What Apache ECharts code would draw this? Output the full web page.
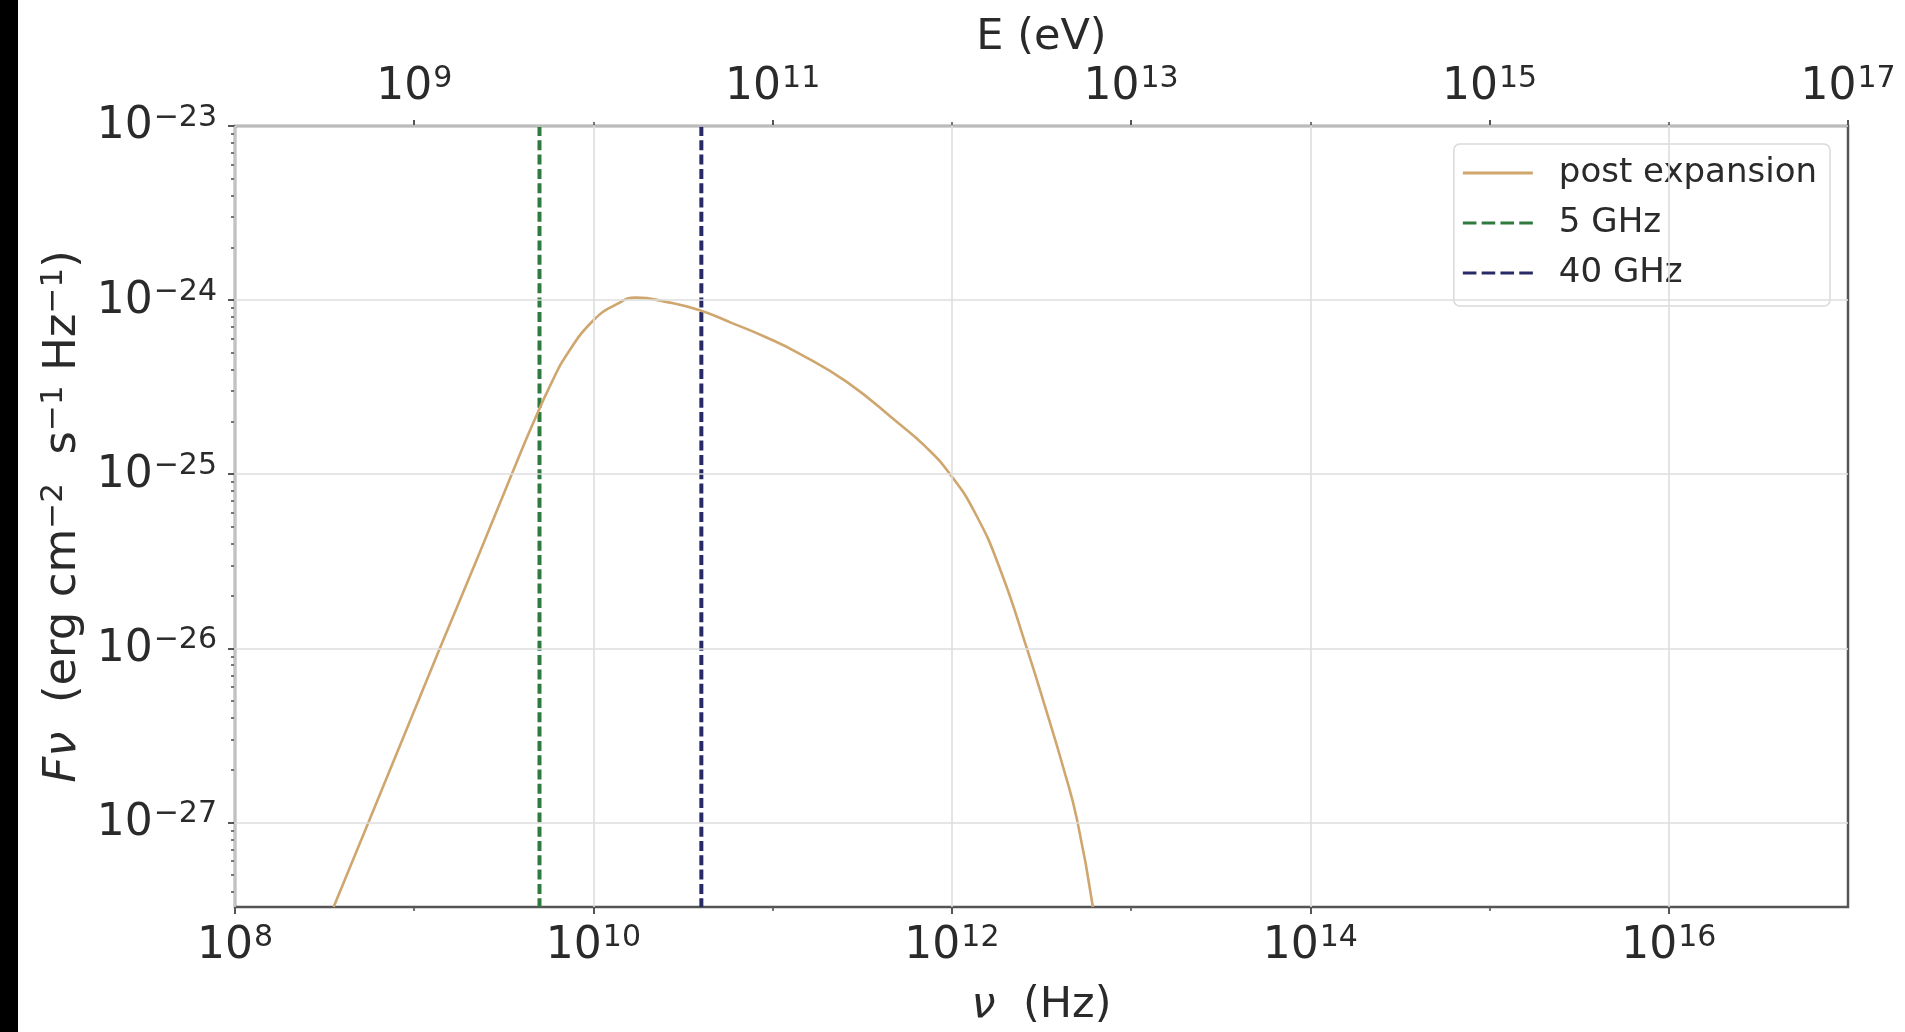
<!DOCTYPE html>
<html>
<head>
<meta charset="utf-8">
<script src="https://cdn.jsdelivr.net/npm/echarts@6/dist/echarts.min.js"></script>
<style>
  html, body { margin: 0; padding: 0; background: #ffffff; }
  #chart { width: 1905px; height: 1032px; }
</style>
</head>
<body>
<div id="chart"></div>
<script>
// Synchrotron spectrum after expansion: flux density Fν against frequency ν
const freqHz = [3.55e8, 5.55e8, 1.39e9, 2.32e9, 3.57e9, 4.59e9, 5.93e9, 7.03e9, 9.91e9,
                1.34e10, 1.73e10, 2.54e10, 3.88e10, 5.94e10, 9.12e10, 1.40e11, 2.59e11,
                4.92e11, 7.08e11, 9.77e11, 1.35e12, 1.86e12, 2.62e12, 3.39e12, 4.17e12, 5.01e12, 6.12e12];
const fluxFnu = [3.27e-28, 1.0e-27, 1.0e-26, 3.55e-26, 1.05e-25, 1.95e-25, 3.47e-25, 4.79e-25, 7.59e-25,
                 9.44e-25, 1.033e-24, 9.77e-25, 8.77e-25, 7.38e-25, 6.14e-25, 4.95e-25, 3.39e-25,
                 2.0e-25, 1.45e-25, 1.0e-25, 5.97e-26, 2.84e-26, 1.0e-26, 4.27e-27, 2.09e-27, 1.02e-27, 3.27e-28];

// Observing frequencies marked with vertical lines
const markerFreqs = [5e9, 4e10];
const markerNames = ['5 GHz', '40 GHz'];
const markerColors = ['#2f7a3f', '#272a66'];
const curveName = 'post expansion';
const curveColor = '#cfa66e';

// Axis ranges and tick positions
const nuMin = 1e8, nuMax = 1e17;
const fluxMin = 3.27e-28, fluxMax = 1e-23;
const nuTicks = [1e8, 1e10, 1e12, 1e14, 1e16];
const nuMinorTicks = [1e9, 1e11, 1e13, 1e15];
const energyTicks = [1e9, 1e11, 1e13, 1e15, 1e17];
const energyMinorTicks = [1e10, 1e12, 1e14, 1e16];
const fluxTicks = [1e-27, 1e-26, 1e-25, 1e-24, 1e-23];
const minorMantissas = [2, 3, 4, 5, 6, 7, 8, 9];
const minorDecades = [-28, -27, -26, -25, -24];

// Flux values are handed to the axis in units of 1e-30 erg cm^-2 s^-1 Hz^-1,
// which keeps the log scale away from floating point rounding of tiny numbers.
const FLUX_UNIT_EXP = -30;
const FLUX_UNIT = Math.pow(10, FLUX_UNIT_EXP);
function toUnit(v) { return v / FLUX_UNIT; }

const fluxMinorTicks = [];
minorDecades.forEach(function (d) {
  minorMantissas.forEach(function (m) {
    const v = m * Math.pow(10, d);
    if (v > fluxMin && v < fluxMax) fluxMinorTicks.push(toUnit(v));
  });
});

const FONT = 'DejaVu Sans';
const TEXT = '#2a2a2a';
const SPINE = '#555555';

function powText(e) {
  const s = e < 0 ? '\u2212' + (-e) : String(e);
  return '{b|10}{s|' + s + '}';
}
function nuLabel(v) { return powText(Math.round(Math.log10(v))); }
function fluxLabel(v) { return powText(Math.round(Math.log10(v)) + FLUX_UNIT_EXP); }

const tickRich = {
  b: { fontSize: 44, fontFamily: FONT, color: TEXT, verticalAlign: 'bottom', padding: [2, 0, 0, 0] },
  s: { fontSize: 30, fontFamily: FONT, color: TEXT, verticalAlign: 'top', padding: [0, 0, 0, 1] }
};

function titleRich(size) {
  const sup = Math.round(size * 0.7);
  return {
    i: { fontSize: size, fontFamily: FONT, color: TEXT, fontStyle: 'italic', verticalAlign: 'bottom', padding: [2, 0, 0, 0] },
    b: { fontSize: size, fontFamily: FONT, color: TEXT, verticalAlign: 'bottom', padding: [2, 0, 0, 0] },
    s: { fontSize: sup, fontFamily: FONT, color: TEXT, verticalAlign: 'top' }
  };
}

// Legend handles: a solid bar and a four-dash bar
const solidIcon = 'path://M0,0H70V3H0Z';
const dashIcon = 'path://M0,0H13V3H0Z M18,0H31V3H18Z M36,0H49V3H36Z M54,0H67V3H54Z';

const chart = echarts.init(document.getElementById('chart'), null, { renderer: 'canvas' });

const spectrum = freqHz.map(function (v, i) { return [v, toUnit(fluxFnu[i])]; });

const gridLines = nuTicks.map(function (v) { return { xAxis: v }; })
  .concat(fluxTicks.map(function (v) { return { yAxis: toUnit(v) }; }));

const markerSeries = markerFreqs.map(function (f, i) {
  return {
    name: markerNames[i],
    type: 'line',
    xAxisIndex: 0,
    yAxisIndex: 0,
    data: [[f, toUnit(fluxMax)], [f, toUnit(fluxMin)]],
    symbol: 'none',
    showSymbol: false,
    lineStyle: { color: markerColors[i], width: 4, type: [10, 4.3] },
    itemStyle: { color: markerColors[i] },
    z: 3
  };
});

function minorAxis(position, values, extra) {
  return Object.assign({
    type: 'log',
    position: position,
    axisLine: { show: false },
    axisTick: { show: true, customValues: values, length: 4, lineStyle: { color: SPINE, width: 1.6 } },
    axisLabel: { show: false },
    splitLine: { show: false }
  }, extra);
}

chart.setOption({
  animation: false,
  backgroundColor: '#ffffff',
  grid: {
    left: 235, right: 57, top: 126, bottom: 121,
    show: true, borderColor: SPINE, borderWidth: 2.5, backgroundColor: 'transparent'
  },
  legend: {
    data: [
      { name: curveName, icon: solidIcon },
      { name: markerNames[0], icon: dashIcon },
      { name: markerNames[1], icon: dashIcon }
    ],
    orient: 'vertical',
    right: 75,
    top: 144,
    itemWidth: 70,
    itemHeight: 4,
    itemGap: 16,
    padding: [12, 13, 16, 9],
    backgroundColor: '#ffffff',
    borderColor: '#d9d9d9',
    borderWidth: 1.5,
    borderRadius: 6,
    textStyle: { fontSize: 34, fontFamily: FONT, color: TEXT, padding: [0, 0, 0, 21] }
  },
  xAxis: [
    {
      type: 'log', position: 'bottom', min: nuMin, max: nuMax,
      name: '{i|\u03bd}{b|  (Hz)}', nameLocation: 'middle', nameGap: 75,
      nameTextStyle: { rich: titleRich(43) },
      axisLine: { show: false },
      axisTick: { show: true, customValues: nuTicks, length: 7, lineStyle: { color: SPINE, width: 2 } },
      axisLabel: { customValues: nuTicks, formatter: nuLabel, rich: tickRich, margin: 16 },
      splitLine: { show: false },
      minorTick: { show: false }
    },
    {
      type: 'log', position: 'top', min: nuMin, max: nuMax,
      name: 'E (eV)', nameLocation: 'middle', nameGap: 52,
      nameTextStyle: { fontSize: 43, fontFamily: FONT, color: TEXT },
      axisLine: { show: false },
      axisTick: { show: true, customValues: energyTicks, length: 6, lineStyle: { color: SPINE, width: 2 } },
      axisLabel: { customValues: energyTicks, formatter: nuLabel, rich: tickRich, margin: 16 },
      splitLine: { show: false },
      minorTick: { show: false }
    },
    minorAxis('bottom', nuMinorTicks, { min: nuMin, max: nuMax }),
    minorAxis('top', energyMinorTicks, { min: nuMin, max: nuMax })
  ],
  yAxis: [
    {
      type: 'log', position: 'left', min: toUnit(fluxMin), max: toUnit(fluxMax),
      name: '{i|F\u03bd}{b|  (erg cm}{s|\u22122}{b|  s}{s|\u22121}{b| Hz}{s|\u22121}{b|)}',
      nameLocation: 'middle', nameGap: 148,
      nameTextStyle: { rich: titleRich(45) },
      axisLine: { show: false },
      axisTick: { show: true, customValues: fluxTicks.map(toUnit), length: 7, lineStyle: { color: SPINE, width: 2 } },
      axisLabel: { customValues: fluxTicks.map(toUnit), formatter: fluxLabel, rich: tickRich, margin: 18 },
      splitLine: { show: false },
      minorTick: { show: false }
    },
    minorAxis('left', fluxMinorTicks, { min: toUnit(fluxMin), max: toUnit(fluxMax) })
  ],
  graphic: [
    { type: 'rect', left: 0, top: 0, shape: { width: 18, height: 1032 }, style: { fill: '#000000' }, z: 100 }
  ],
  series: [
    {
      name: 'gridlines',
      type: 'line',
      data: [],
      silent: true,
      z: 1,
      markLine: {
        silent: true,
        symbol: ['none', 'none'],
        label: { show: false },
        lineStyle: { color: '#dedede', width: 1.6, type: 'solid' },
        data: gridLines
      }
    },
    {
      name: curveName,
      type: 'line',
      xAxisIndex: 0,
      yAxisIndex: 0,
      data: spectrum,
      symbol: 'none',
      showSymbol: false,
      smooth: 0.5,
      lineStyle: { color: curveColor, width: 2.6 },
      itemStyle: { color: curveColor },
      z: 4
    }
  ].concat(markerSeries)
});
</script>
</body>
</html>
